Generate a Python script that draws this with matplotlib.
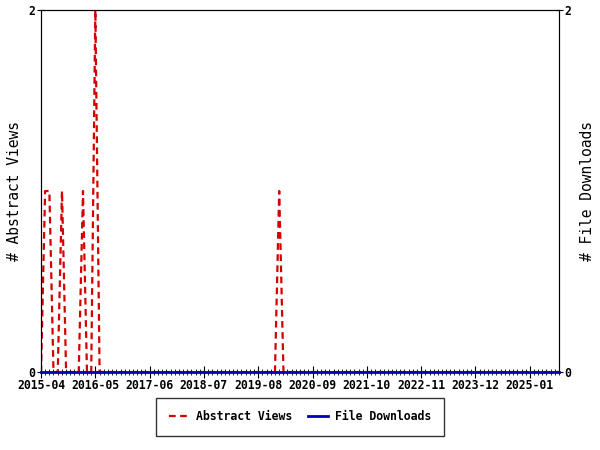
import numpy as np
import pandas as pd
import matplotlib
matplotlib.use('Agg')
import matplotlib.pyplot as plt
import matplotlib.dates as mdates

# monthly series, 2015-04 .. 2025-08
months = pd.date_range('2015-04-01', '2025-08-01', freq='MS')

# months with non-zero abstract views
view_months = ['2015-05', '2015-06', '2015-09', '2016-02', '2016-05', '2020-01']
view_counts = [1, 1, 1, 1, 2, 1]

abstract_views = pd.Series(0, index=months)
for m, c in zip(view_months, view_counts):
    abstract_views[pd.Timestamp(m + '-01')] = c

file_downloads = pd.Series(0, index=months)

plt.rcParams['font.family'] = ['DejaVu Sans Mono']

fig = plt.figure(figsize=(6, 4.5), dpi=100)
ax = fig.add_axes([41 / 600, 1 - 372 / 450, 518 / 600, 362 / 450])
ax2 = ax.twinx()

l1, = ax.plot(abstract_views.index, abstract_views.values, color='#d40000',
              lw=1.6, ls=(0, (3, 2)), label='Abstract Views')
l2, = ax2.plot(file_downloads.index, file_downloads.values, color='#0000c0',
               lw=2, label='File Downloads', zorder=5, clip_on=False)

for a in (ax, ax2):
    a.set_ylim(0, 2)
    a.set_yticks([0, 2])
    a.set_xlim(months[0], months[-1])

ax.set_ylabel('# Abstract Views', fontsize=10.5)
ax2.set_ylabel('# File Downloads', fontsize=10.5, rotation=90)
ax.yaxis.set_label_coords(-0.0367, 0.5)
ax2.yaxis.set_label_coords(1.0405, 0.5)

major = pd.date_range('2015-04-01', '2025-08-01', freq='13MS')
ax.set_xticks(major)
ax.xaxis.set_major_formatter(mdates.DateFormatter('%Y-%m'))
ax.xaxis.set_minor_locator(mdates.MonthLocator())
ax.tick_params(axis='x', which='major', direction='inout', length=8, labelsize=8.3, pad=1)
ax.tick_params(axis='x', which='minor', direction='inout', length=5)
ax.tick_params(axis='y', direction='inout', length=6, labelsize=8.3, pad=1)
ax2.tick_params(axis='y', direction='inout', length=6, labelsize=8.3, pad=1)
for lab in ax.get_xticklabels() + ax.get_yticklabels() + ax2.get_yticklabels():
    lab.set_fontweight('bold')

leg = fig.legend([l1, l2], ['Abstract Views', 'File Downloads'], loc='center',
                 bbox_to_anchor=(300 / 600, 1 - 417 / 450), ncol=2, fontsize=8.3,
                 frameon=True, fancybox=False, edgecolor='black',
                 handlelength=1.75, handletextpad=0.6, columnspacing=1.4,
                 borderpad=1.1, borderaxespad=0)
leg.get_frame().set_linewidth(1)
for t in leg.get_texts():
    t.set_fontweight('bold')

fig.savefig('out.png', dpi=100)
